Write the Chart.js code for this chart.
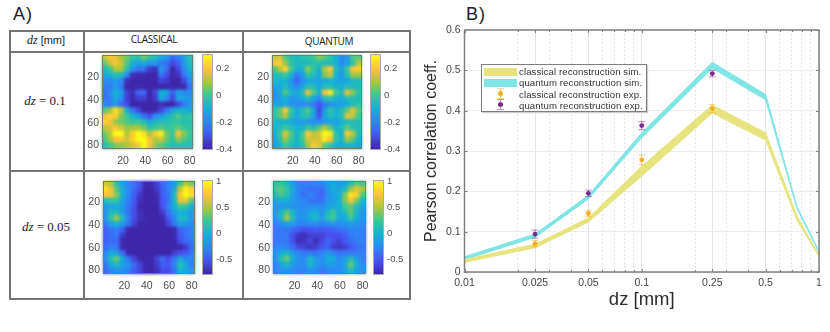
<!DOCTYPE html>
<html>
<head>
<meta charset="utf-8">
<script src="https://cdn.jsdelivr.net/npm/chart.js@4/dist/chart.umd.min.js"></script>
<style>
  html, body { margin: 0; padding: 0; background: #fff; }
  body { position: relative; width: 830px; height: 332px; overflow: hidden; font-family: "Liberation Sans", Arial, sans-serif; }
  canvas { position: absolute; filter: blur(0.3px); }
  .txt { position: absolute; white-space: nowrap; transform: translate(-50%, -50%); color: #222; }
  .panel { font-size: 18px; letter-spacing: 1px; color: #222; }
  .math { font-family: "Liberation Serif", serif; font-size: 13px; }
  .math i { font-style: italic; }
  .head { font-family: "Open Sans", sans-serif; font-size: 10px; letter-spacing: -0.35px; }
  table { position: absolute; left: 9px; top: 30px; width: 400px; height: 268px; border-collapse: collapse; table-layout: fixed; }
  td { border: 2px solid #747474; padding: 0; }
  #legend { position: absolute; left: 481px; top: 64px; width: 164px; height: 46px; background: #fff; border: 1px solid #7d7d7d; box-shadow: 1px 1px 1px #ccc; font-size: 9.6px; letter-spacing: 0.1px; color: #333; }
  #legend .row { position: absolute; left: 0; height: 11px; line-height: 11px; }
  #legend .lab { position: absolute; left: 37px; white-space: nowrap; }
  #legend .swatch { position: absolute; left: 2px; top: 2px; width: 33px; height: 8px; }
  #legend .bar { position: absolute; left: 18px; top: -1px; width: 1px; height: 11px; }
  #legend .cap { position: absolute; left: 15px; width: 7px; height: 1px; }
  #legend .dot { position: absolute; left: 16px; top: 2px; width: 5px; height: 5px; border-radius: 50%; }
</style>
</head>
<body>
<div class="txt panel" style="left:23px;top:14px">A)</div>
<div class="txt panel" style="left:476px;top:14px">B)</div>

<table>
  <colgroup><col style="width:74px"><col style="width:159px"><col style="width:167px"></colgroup>
  <tr style="height:21px"><td></td><td></td><td></td></tr>
  <tr style="height:119px"><td></td><td></td><td></td></tr>
  <tr style="height:128px"><td></td><td></td><td></td></tr>
</table>
<div class="txt" style="left:46px;top:40px;font-size:11px"><span class="math" style="font-size:12px"><i>dz</i></span> [mm]</div>
<div class="txt head" style="left:154px;top:39px">CLASSICAL</div>
<div class="txt head" style="left:329px;top:41px">QUANTUM</div>
<div class="txt math" style="left:45px;top:101px"><i>dz</i> = 0.1</div>
<div class="txt math" style="left:46px;top:227px"><i>dz</i> = 0.05</div>

<canvas id="mapClassical01"></canvas>
<canvas id="mapQuantum01"></canvas>
<canvas id="mapClassical005"></canvas>
<canvas id="mapQuantum005"></canvas>
<canvas id="pearsonChart"></canvas>

<div id="legend">
  <div class="row" style="top:1px;width:164px"><span class="swatch" style="background:#E6E47E"></span><span class="lab">classical reconstruction sim.</span></div>
  <div class="row" style="top:12px;width:164px"><span class="swatch" style="background:#7FE5E5"></span><span class="lab">quantum reconstruction sim.</span></div>
  <div class="row" style="top:24px;width:164px"><span class="bar" style="background:#F8D68C"></span><span class="cap" style="top:-1px;background:#F8D68C"></span><span class="cap" style="top:9px;background:#F8D68C"></span><span class="dot" style="background:#F5AE1E"></span><span class="lab">classical reconstruction exp.</span></div>
  <div class="row" style="top:35px;width:164px"><span class="bar" style="background:#BD94C5"></span><span class="cap" style="top:-1px;background:#BD94C5"></span><span class="cap" style="top:9px;background:#BD94C5"></span><span class="dot" style="background:#7B2A8C"></span><span class="lab">quantum reconstruction exp.</span></div>
</div>

<script>
// Panel B: x positions and the two simulated bands (upper / lower edge)
const dzSim = [0.01, 0.025, 0.05, 0.1, 0.25, 0.5, 0.75, 1];
const classicalSimUpper = [0.031, 0.069, 0.134, 0.262, 0.414, 0.345, 0.139, 0.042];
const classicalSimLower = [0.024, 0.060, 0.124, 0.238, 0.394, 0.327, 0.129, 0.038];
const quantumSimUpper = [0.038, 0.094, 0.190, 0.345, 0.520, 0.440, 0.163, 0.052];
const quantumSimLower = [0.031, 0.086, 0.181, 0.333, 0.505, 0.427, 0.158, 0.048];

// Panel B: measured points with their error bars
const dzExp = [0.025, 0.05, 0.1, 0.25];
const classicalExp = [0.070, 0.145, 0.278, 0.405];
const classicalErr = [0.008, 0.008, 0.012, 0.010];
const quantumExp = [0.094, 0.195, 0.363, 0.492];
const quantumErr = [0.010, 0.008, 0.010, 0.008];

const xMajorTicks = [0.01, 0.025, 0.05, 0.1, 0.25, 0.5, 1];
const xMinorTicks = [0.02, 0.03, 0.04, 0.06, 0.07, 0.08, 0.09, 0.2, 0.3, 0.4, 0.6, 0.7, 0.8, 0.9];
const yTicks = [0, 0.1, 0.2, 0.3, 0.4, 0.5, 0.6];

// Panel A: tick labels of the maps and colour bars
const mapTicks = [20, 40, 60, 80];
const colorbarTicks01 = [-0.4, -0.2, 0, 0.2];
const colorbarTicks005 = [-0.5, 0, 0.5, 1];

// Panel A: maps, one row per line, top row first
const classical01 = [
  [.12,.20,.18,.10,.05,-.02,-.02,.05,-.02,-.06,-.12,-.15,-.25,-.22,-.14,-.04],
  [.03,.12,.20,.14,.02,-.09,-.14,-.12,-.16,-.16,-.22,-.24,-.33,-.28,-.16,-.06],
  [-.06,-.01,.10,.10,-.04,-.16,-.24,-.24,-.35,-.37,-.16,-.24,-.40,-.33,-.19,-.09],
  [-.12,-.09,-.04,-.06,-.19,-.37,-.39,-.39,-.40,-.40,-.24,-.31,-.40,-.37,-.24,-.14],
  [-.19,-.19,-.16,-.19,-.38,-.40,-.40,-.40,-.40,-.40,-.33,-.35,-.40,-.40,-.33,-.19],
  [-.22,-.22,-.16,-.22,-.40,-.40,-.40,-.40,-.40,-.40,-.40,-.40,-.40,-.40,-.40,-.24],
  [-.24,-.19,-.09,-.14,-.34,-.38,-.26,-.26,-.40,-.33,-.10,-.12,-.28,-.15,-.19,-.19],
  [-.24,-.22,-.12,-.19,-.34,-.40,-.34,-.34,-.40,-.34,-.12,-.19,-.33,-.14,-.14,-.16],
  [-.19,-.22,-.15,-.26,-.32,-.40,-.40,-.40,-.40,-.40,-.38,-.40,-.40,-.33,-.24,-.16],
  [.02,.08,.25,.12,-.09,-.24,-.32,-.40,-.40,-.40,-.33,-.24,-.14,-.09,-.09,-.12],
  [.18,.22,.22,.07,.00,-.08,-.14,-.24,-.31,-.19,-.16,-.09,-.04,.02,-.04,-.02],
  [.22,.20,.08,.05,.02,-.02,.00,-.05,-.12,-.07,-.05,-.04,-.02,-.02,-.04,-.04],
  [.12,.15,.20,.14,.08,.10,.10,.05,-.02,.00,.03,-.01,.00,.04,.00,-.02],
  [.04,.12,.32,.33,.11,.22,.33,.25,.09,.22,.28,.06,-.02,.20,.08,.00],
  [.00,.09,.20,.20,.14,.22,.34,.34,.20,.10,.14,.04,-.02,.07,.02,-.02],
  [-.05,.00,.06,.08,.10,.14,.20,.30,.19,.08,.03,-.01,-.05,-.05,-.05,-.05]
];
const quantum01 = [
  [.12,.15,.02,-.04,-.06,-.04,-.03,.00,.07,.03,-.03,-.09,-.19,-.16,.02,.03],
  [.20,.22,.08,-.02,-.06,-.06,-.06,-.03,-.04,-.06,-.06,-.09,-.19,-.14,-.03,.12],
  [.01,.10,.22,.02,-.09,-.09,.07,-.01,-.09,.10,.20,-.06,-.14,.00,.20,.22],
  [-.06,-.04,.00,-.09,-.22,-.16,-.01,-.06,-.12,.06,.13,-.09,-.16,-.05,.09,.09],
  [-.07,-.09,-.09,-.16,-.26,-.19,-.12,-.12,-.14,-.12,-.09,-.12,-.14,-.12,-.07,-.06],
  [-.12,-.12,-.06,-.14,-.19,-.14,-.05,-.05,-.12,-.06,-.05,-.09,-.09,-.06,-.06,-.06],
  [-.19,-.12,.02,-.08,-.12,-.06,.18,.03,-.09,.20,.26,.01,-.06,.17,.07,-.03],
  [-.19,-.14,-.09,-.16,-.14,-.12,-.05,-.12,-.19,-.06,-.03,-.09,-.12,-.05,-.05,-.06],
  [-.12,-.14,-.11,-.17,-.19,-.19,-.19,-.22,-.30,-.22,-.17,-.16,-.14,-.11,-.05,-.03],
  [-.03,.03,.20,.00,-.12,-.06,.02,-.12,-.32,-.14,-.03,-.09,-.06,.04,.16,.03],
  [-.03,.03,.11,-.03,-.12,-.05,-.03,-.14,-.30,-.12,-.05,-.09,-.05,.16,.12,.00],
  [-.07,-.09,-.09,-.12,-.14,-.16,-.16,-.19,-.19,-.16,-.14,-.14,-.09,-.05,-.05,-.05],
  [-.09,-.06,.00,-.05,-.09,-.09,.00,-.05,.03,.12,.03,-.09,-.06,.03,-.03,-.06],
  [-.12,.00,.17,.03,-.09,.00,.21,.12,.15,.34,.27,-.03,-.09,.21,.12,-.06],
  [-.14,-.05,.09,.00,-.09,.00,.14,.15,.15,.26,.19,-.03,-.09,.09,.03,-.09],
  [-.14,-.09,.00,-.05,-.09,-.05,.09,.21,.17,.03,-.03,-.09,-.12,-.09,-.09,-.12]
];
const classical005 = [
  [.60,.50,.15,-.10,-.28,-.35,-.50,-.75,-.75,-.60,-.40,-.30,-.15,.20,.50,.35],
  [.85,.70,.30,-.05,-.25,-.40,-.55,-.77,-.77,-.65,-.45,-.30,-.05,.55,.95,.80],
  [.75,.70,.40,.00,-.25,-.45,-.65,-.77,-.77,-.75,-.45,-.35,.05,.75,1.00,.85],
  [.10,.20,.20,-.10,-.30,-.50,-.70,-.77,-.77,-.75,-.50,-.35,.05,.65,.70,.30],
  [-.15,-.10,-.05,-.15,-.35,-.50,-.77,-.77,-.77,-.77,-.50,-.30,.00,.25,.20,.00],
  [-.20,.10,.10,-.15,-.35,-.55,-.70,-.77,-.77,-.77,-.65,-.35,-.15,.00,-.05,-.15],
  [-.20,.20,.45,.10,-.30,-.55,-.70,-.75,-.77,-.77,-.75,-.50,-.25,.05,.05,-.15],
  [-.35,-.10,.00,-.15,-.35,-.60,-.77,-.77,-.77,-.77,-.77,-.60,-.35,-.10,-.15,-.25],
  [-.45,-.35,-.30,-.45,-.75,-.77,-.77,-.77,-.77,-.77,-.77,-.77,-.75,-.45,-.35,-.30],
  [-.45,-.40,-.35,-.65,-.77,-.77,-.77,-.77,-.77,-.77,-.77,-.77,-.75,-.50,-.35,-.30],
  [-.45,-.40,-.40,-.75,-.77,-.77,-.77,-.77,-.77,-.77,-.77,-.77,-.77,-.55,-.40,-.35],
  [-.40,-.30,-.35,-.75,-.77,-.77,-.77,-.77,-.77,-.77,-.77,-.77,-.77,-.77,-.65,-.40],
  [-.25,-.05,-.10,-.40,-.75,-.77,-.77,-.77,-.77,-.77,-.77,-.77,-.65,-.55,-.50,-.35],
  [-.25,.15,.35,-.05,-.35,-.60,-.75,-.77,-.77,-.60,-.40,-.55,-.35,-.05,-.25,-.25],
  [-.35,-.05,.08,-.10,-.20,-.40,-.60,-.75,-.77,-.65,-.45,-.50,-.30,.15,-.05,-.30],
  [-.40,-.25,-.20,-.20,-.30,-.45,-.60,-.75,-.77,-.70,-.55,-.55,-.35,.00,-.05,-.20]
];
const quantum005 = [
  [.18,.20,.08,-.13,-.28,-.30,-.30,-.25,-.28,-.13,-.03,-.13,-.13,.10,.30,.25],
  [.22,.32,.20,-.06,-.28,-.33,-.38,-.38,-.38,-.18,-.03,-.08,.05,.45,.65,.50],
  [.10,.28,.15,-.10,-.28,-.38,-.28,-.38,-.43,-.23,-.08,-.03,.38,.90,.80,.30],
  [-.08,-.03,-.03,-.13,-.23,-.28,-.33,-.38,-.38,-.18,-.13,-.03,.38,.75,.40,.05],
  [-.18,-.18,-.13,-.18,-.23,-.23,-.23,-.23,-.23,-.13,-.08,-.03,.25,.33,.10,-.10],
  [-.18,.05,.30,.05,-.18,-.18,-.08,-.02,-.18,.05,.25,-.03,.10,.35,.05,-.18],
  [-.18,.05,.48,.12,-.18,-.18,-.03,.05,-.13,.12,.25,-.08,-.03,.22,-.03,-.18],
  [-.28,-.23,-.13,-.18,-.28,-.28,-.23,-.23,-.28,-.23,-.18,-.23,-.18,-.13,-.18,-.23],
  [-.33,-.33,-.33,-.38,-.48,-.53,-.53,-.48,-.48,-.48,-.43,-.38,-.33,-.28,-.28,-.28],
  [-.33,-.33,-.33,-.53,-.68,-.72,-.62,-.62,-.62,-.53,-.53,-.53,-.48,-.33,-.28,-.28],
  [-.33,-.33,-.33,-.53,-.72,-.68,-.58,-.72,-.58,-.43,-.53,-.62,-.48,-.38,-.33,-.28],
  [-.28,-.23,-.28,-.38,-.58,-.62,-.68,-.62,-.48,-.43,-.62,-.68,-.62,-.48,-.38,-.33],
  [-.18,-.03,.05,-.13,-.28,-.33,-.33,-.38,-.28,-.18,-.28,-.38,-.33,-.33,-.33,-.28],
  [-.18,.15,.35,-.03,-.23,-.23,.05,-.13,-.23,-.03,-.03,-.23,-.13,.10,-.13,-.28],
  [-.28,-.08,.05,-.13,-.23,-.23,.05,-.13,-.23,-.13,-.13,-.23,-.08,.35,-.03,-.23],
  [-.23,-.18,-.18,-.23,-.28,-.28,-.18,-.23,-.33,-.28,-.23,-.23,-.13,.10,-.08,-.18]
];

const parulaStops = [
  [62, 38, 168], [72, 82, 244], [46, 135, 247], [18, 177, 214],
  [55, 200, 151], [171, 199, 57], [254, 195, 56], [249, 251, 21]
];

function parula(t) {
  const clamped = Math.max(0, Math.min(1, t)) * (parulaStops.length - 1);
  const i = Math.min(Math.floor(clamped), parulaStops.length - 2);
  const f = clamped - i;
  const c = parulaStops[i].map((v, k) => Math.round(v + (parulaStops[i + 1][k] - v) * f));
  return `rgb(${c[0]},${c[1]},${c[2]})`;
}

// Blurs the plot area in place so the cells look like the smooth MATLAB maps,
// then adds the box and the colour bar
const heatmapPlugin = {
  id: "heatmapPlugin",
  afterDatasetsDraw(chart) {
    const { left, top, width, height } = chart.chartArea;
    const ctx = chart.ctx;
    ctx.save();
    ctx.filter = "blur(1.7px)";
    ctx.drawImage(chart.canvas, left, top, width, height, left, top, width, height);
    ctx.restore();
  },
  afterDraw(chart) {
    const { left, top, right, bottom } = chart.chartArea;
    const ctx = chart.ctx;
    const cb = chart.scales.cb;
    ctx.save();
    ctx.strokeStyle = "#6e7f70";
    ctx.lineWidth = 1;
    ctx.strokeRect(left + 0.5, top + 0.5, right - left - 1, bottom - top - 1);

    const barLeft = right + chart.options.colorbarGap;
    const barWidth = 9;
    for (let py = Math.round(cb.top); py < cb.bottom; py++) {
      const value = cb.getValueForPixel(py + 0.5);
      ctx.fillStyle = parula((value - cb.min) / (cb.max - cb.min));
      ctx.fillRect(barLeft, py, barWidth, 1);
    }
    ctx.strokeStyle = "#aaaaaa";
    ctx.strokeRect(barLeft - 0.5, cb.top - 0.5, barWidth + 1, cb.bottom - cb.top + 1);
    ctx.restore();
  },
};

function createHeatmap(id, grid, box, cbMin, cbMax, cbTicks) {
  const el = document.getElementById(id);
  const leftPad = 32, rightPad = 62, topPad = 12, bottomPad = 24;
  el.width = box.w + leftPad + rightPad;
  el.height = box.h + topPad + bottomPad;
  el.style.left = box.x - leftPad + "px";
  el.style.top = box.y - topPad + "px";

  const n = grid.length;
  const cells = [];
  grid.forEach((row, r) => {
    row.forEach((v, c) => {
      cells.push({ x: 1 + ((c + 0.5) * 82) / n, y: 1 + ((r + 0.5) * 82) / n, v: v });
    });
  });

  const tickFont = { family: "'Liberation Sans', Arial, sans-serif", size: 10.5 };
  return new Chart(el, {
    type: "scatter",
    data: {
      datasets: [
        {
          data: cells,
          pointStyle: "rect",
          pointRadius: (box.w / n + 1.5) / Math.SQRT2,
          pointBorderWidth: 0,
          pointBackgroundColor: (ctx) => parula((ctx.raw.v - cbMin) / (cbMax - cbMin)),
        },
      ],
    },
    plugins: [heatmapPlugin],
    options: {
      responsive: false,
      animation: false,
      events: [],
      colorbarGap: box.gap,
      layout: { padding: { top: topPad, right: 0, left: 0, bottom: 0 } },
      plugins: { legend: { display: false }, tooltip: { enabled: false } },
      scales: {
        x: {
          type: "linear",
          min: 1,
          max: 83,
          afterBuildTicks: (scale) => { scale.ticks = mapTicks.map((value) => ({ value })); },
          afterFit: (scale) => { scale.height = bottomPad; },
          grid: { display: false, drawTicks: false },
          border: { display: false },
          ticks: { color: "#4d4d4d", font: tickFont, padding: 6, maxRotation: 0, autoSkip: false },
        },
        y: {
          type: "linear",
          reverse: true,
          min: 1,
          max: 83,
          afterBuildTicks: (scale) => { scale.ticks = mapTicks.map((value) => ({ value })); },
          afterFit: (scale) => { scale.width = leftPad; },
          grid: { display: false, drawTicks: false },
          border: { display: false },
          ticks: { color: "#4d4d4d", font: tickFont, padding: 3, autoSkip: false },
        },
        cb: {
          type: "linear",
          position: "right",
          min: cbMin,
          max: cbMax,
          afterBuildTicks: (scale) => { scale.ticks = cbTicks.map((value) => ({ value })); },
          afterFit: (scale) => { scale.width = rightPad; },
          // the transparent tick length moves the labels past the colour bar
          grid: { drawOnChartArea: false, drawTicks: true, tickLength: box.gap + 11, tickColor: "transparent" },
          border: { display: false },
          ticks: {
            color: "#4d4d4d",
            font: { family: tickFont.family, size: 9.5 },
            padding: 2,
            autoSkip: false,
            callback: (value) => String(value),
          },
        },
      },
    },
  });
}

// Error bars of the measured points, taken from the errors kept on the dataset
const errorBarPlugin = {
  id: "errorBarPlugin",
  afterDatasetsDraw(chart) {
    const ctx = chart.ctx;
    const { x, y } = chart.scales;
    chart.data.datasets.forEach((ds) => {
      if (!ds.errors) return;
      ctx.save();
      ctx.strokeStyle = ds.errorColor;
      ctx.lineWidth = 1;
      ds.data.forEach((p, i) => {
        const px = x.getPixelForValue(p.x);
        const hi = y.getPixelForValue(p.y + ds.errors[i]);
        const lo = y.getPixelForValue(p.y - ds.errors[i]);
        ctx.beginPath();
        ctx.moveTo(px, hi);
        ctx.lineTo(px, lo);
        ctx.moveTo(px - 3.5, hi);
        ctx.lineTo(px + 3.5, hi);
        ctx.moveTo(px - 3.5, lo);
        ctx.lineTo(px + 3.5, lo);
        ctx.stroke();
      });
      ctx.restore();
    });
  },
};

// MATLAB style box with short inward ticks on all four sides
const boxPlugin = {
  id: "boxPlugin",
  afterDraw(chart) {
    const { left, top, right, bottom } = chart.chartArea;
    const ctx = chart.ctx;
    const { x, y } = chart.scales;
    ctx.save();
    ctx.strokeStyle = "#7f7f7f";
    ctx.lineWidth = 1;
    ctx.beginPath();
    xMajorTicks.concat(xMinorTicks).forEach((v) => {
      const px = Math.round(x.getPixelForValue(v)) + 0.5;
      const len = xMajorTicks.includes(v) ? 3 : 2;
      ctx.moveTo(px, bottom);
      ctx.lineTo(px, bottom - len);
      ctx.moveTo(px, top);
      ctx.lineTo(px, top + len);
    });
    yTicks.forEach((v) => {
      const py = Math.round(y.getPixelForValue(v)) + 0.5;
      ctx.moveTo(left, py);
      ctx.lineTo(left + 3, py);
      ctx.moveTo(right, py);
      ctx.lineTo(right - 3, py);
    });
    ctx.stroke();
    ctx.lineWidth = 1.5;
    ctx.strokeRect(left, top, right - left, bottom - top);
    ctx.restore();
  },
};

function toPoints(xs, ys) {
  return xs.map((v, i) => ({ x: v, y: ys[i] }));
}

function bandEdge(label, xs, ys, color, fill, order) {
  return {
    label: label,
    data: toPoints(xs, ys),
    borderColor: color,
    borderWidth: 1,
    backgroundColor: color,
    pointRadius: 0,
    tension: 0,
    fill: fill,
    order: order,
  };
}

function expSeries(label, xs, ys, errors, color, errorColor, order) {
  return {
    label: label,
    data: toPoints(xs, ys),
    errors: errors,
    errorColor: errorColor,
    showLine: false,
    pointRadius: 2.4,
    pointBorderWidth: 0,
    pointBackgroundColor: color,
    order: order,
  };
}

function createPearsonChart() {
  const el = document.getElementById("pearsonChart");
  el.width = 410;
  el.height = 332;
  el.style.left = "420px";
  el.style.top = "0px";
  const family = "'Liberation Sans', Arial, sans-serif";

  return new Chart(el, {
    type: "line",
    data: {
      datasets: [
        expSeries("classical reconstruction exp.", dzExp, classicalExp, classicalErr, "#F5AE1E", "rgba(245,174,30,0.5)", 0),
        expSeries("quantum reconstruction exp.", dzExp, quantumExp, quantumErr, "#7B2A8C", "rgba(123,42,140,0.5)", 1),
        bandEdge("classical upper", dzSim, classicalSimUpper, "#E6E47E", false, 3),
        bandEdge("classical reconstruction sim.", dzSim, classicalSimLower, "#E6E47E", "-1", 3),
        bandEdge("quantum upper", dzSim, quantumSimUpper, "#7FE5E5", false, 4),
        bandEdge("quantum reconstruction sim.", dzSim, quantumSimLower, "#7FE5E5", "-1", 4),
      ],
    },
    plugins: [errorBarPlugin, boxPlugin],
    options: {
      responsive: false,
      animation: false,
      events: [],
      layout: { padding: { top: 30, right: 11, left: 0, bottom: 21 } },
      plugins: { legend: { display: false }, tooltip: { enabled: false } },
      scales: {
        x: {
          type: "logarithmic",
          min: 0.01,
          max: 1,
          afterBuildTicks: (scale) => {
            scale.ticks = xMajorTicks.concat(xMinorTicks).sort((a, b) => a - b).map((value) => ({ value }));
          },
          afterFit: (scale) => { scale.height = 39; },
          grid: {
            drawTicks: false,
            color: (ctx) => (xMajorTicks.includes(ctx.tick.value) ? "#e3e3e3" : "#e6e6e6"),
          },
          border: {
            display: false,
            dash: (ctx) => (xMajorTicks.includes(ctx.tick.value) ? [] : [2, 2]),
          },
          ticks: {
            color: "#444444",
            font: { family: family, size: 10.5 },
            padding: 5,
            maxRotation: 0,
            autoSkip: false,
            callback: (value) => (xMajorTicks.includes(value) ? String(value) : ""),
          },
          title: {
            display: true,
            text: "dz [mm]",
            color: "#2b2b2b",
            font: { family: family, size: 18.5 },
            padding: { top: 4, bottom: 0 },
          },
        },
        y: {
          type: "linear",
          min: 0,
          max: 0.6,
          afterBuildTicks: (scale) => { scale.ticks = yTicks.map((value) => ({ value })); },
          afterFit: (scale) => { scale.width = 44.5; },
          grid: { drawTicks: false, color: "#ededed" },
          border: { display: false },
          ticks: {
            color: "#444444",
            font: { family: family, size: 10.5 },
            padding: 4,
            autoSkip: false,
            callback: (value) => String(value),
          },
          title: {
            display: true,
            text: "Pearson correlation coeff.",
            color: "#2b2b2b",
            font: { family: family, size: 16 },
            padding: { top: 2, bottom: 0 },
          },
        },
      },
    },
  });
}

document.addEventListener("DOMContentLoaded", function () {
  createHeatmap("mapClassical01", classical01, { x: 102, y: 55, w: 91, h: 94, gap: 10 }, -0.4, 0.3, colorbarTicks01);
  createHeatmap("mapQuantum01", quantum01, { x: 272, y: 55, w: 90, h: 94, gap: 9 }, -0.4, 0.3, colorbarTicks01);
  createHeatmap("mapClassical005", classical005, { x: 103, y: 181, w: 92, h: 93, gap: 8 }, -0.77, 1, colorbarTicks005);
  createHeatmap("mapQuantum005", quantum005, { x: 273, y: 181, w: 93, h: 93, gap: 8 }, -0.77, 1, colorbarTicks005);
  createPearsonChart();
});
</script>
</body>
</html>
